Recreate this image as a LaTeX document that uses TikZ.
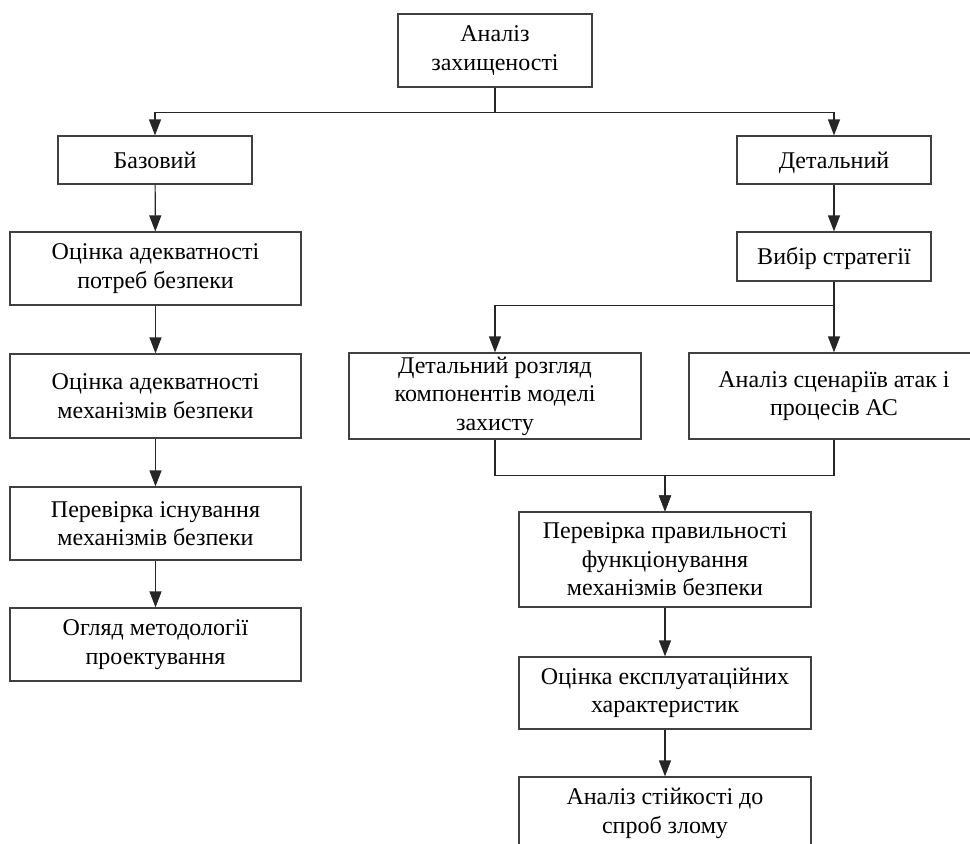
\documentclass[tikz,border=0pt]{standalone}
\usepackage{fontspec}
\setmainfont{Liberation Serif}
\usepackage{tikz}
\usetikzlibrary{arrows.meta,positioning}
\tikzstyle{block}=[draw=black!75,fill=white,rectangle,inner sep=0pt,align=center,font=\fontsize{24}{28.5}\selectfont]
\tikzstyle{wide}=[block,minimum width=291pt]
\tikzstyle{single}=[text height=16pt,text depth=0pt]

\begin{document}
\begin{tikzpicture}[x=1pt,y=-1pt,
line width=1.2pt,
every edge/.style = {draw=black!85, -{Triangle[length=16pt,width=12pt]}},
arr/.style = {draw=black!85, -{Triangle[length=16pt,width=12pt]}}]
\useasboundingbox (0,0) rectangle (970,844);
% top level
\node [block,minimum width=194pt,minimum height=73pt] (top) at (495,50.5) {Аналіз\\захищеності};
\node [block,single,minimum width=194pt,minimum height=48pt] (base) at (155,160) {Базовий};
\node [block,single,minimum width=194pt,minimum height=48pt] (det) at (834,160) {Детальний};
% left branch
\node [wide,minimum height=73pt] (potr) at (155.5,268.5) {Оцінка адекватності\\потреб безпеки};
\node [wide,minimum height=84pt] (mech) at (155.5,396) {Оцінка адекватності\\механізмів безпеки};
\node [wide,minimum height=73pt] (isn) at (155.5,523.5) {Перевірка існування\\механізмів безпеки};
\node [wide,minimum height=73pt] (ogl) at (155.5,644.5) {Огляд методології\\проектування};
% right branch
\node [block,single,minimum width=194pt,minimum height=49pt] (strat) at (834,256.5) {Вибір стратегії};
\node [block,minimum width=292pt,minimum height=86pt] (rozg) at (495,396) {Детальний розгляд\\компонентів моделі\\захисту};
\node [block,minimum width=290pt,minimum height=86pt] (scen) at (834,396) {Аналіз сценаріїв атак і\\процесів АС};
\node [block,minimum width=292pt,minimum height=95pt] (prav) at (665,559.5) {Перевірка правильності\\функціонування\\механізмів безпеки};
\node [block,minimum width=292pt,minimum height=72pt] (ekspl) at (665,693) {Оцінка експлуатаційних\\характеристик};
\node [block,minimum width=292pt,minimum height=73pt] (stiik) at (665,813.5) {Аналіз стійкості до\\спроб злому};

\draw[arr] (top.south) -- ++(0,25) -| (base.north);
\draw[arr] (top.south) -- ++(0,25) -| (det.north);
\path (base) edge (potr)
      (potr) edge (mech)
      (mech) edge (isn)
      (isn) edge (ogl)
      (det) edge (strat)
      (strat) edge (scen)
      (prav) edge (ekspl)
      (ekspl) edge (stiik);
\draw[arr] (strat.south) -- ++(0,24) -| (rozg.north);
\draw[arr] (rozg.south) -- ++(0,36) -| (prav.north);
\draw[arr] (scen.south) -- ++(0,36) -| (prav.north);
\end{tikzpicture}
\end{document}
